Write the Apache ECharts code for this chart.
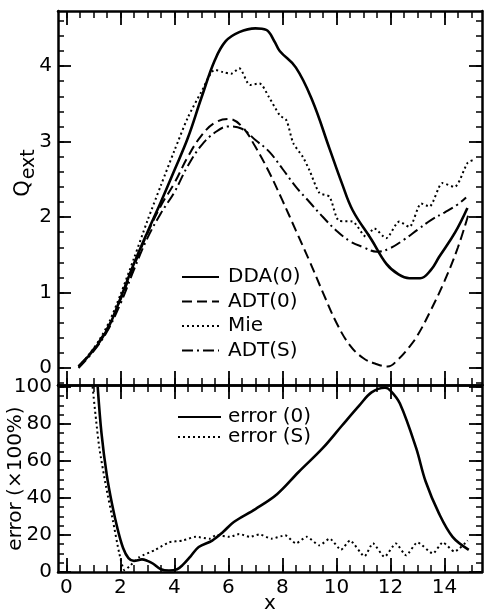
<!DOCTYPE html>
<html><head><meta charset="utf-8">
<script src="https://cdn.jsdelivr.net/npm/echarts@6/dist/echarts.min.js"></script>
<style>html,body{margin:0;padding:0;background:#fff}#c{width:489px;height:611px}</style>
</head><body><div id="c"></div>
<script>
// ---------- data ----------
const xTickLabels = [0, 2, 4, 6, 8, 10, 12, 14];
const qTickLabels = [0, 1, 2, 3, 4];
const errTickLabels = [0, 20, 40, 60, 80, 100];

const ddaO = [[0.45,0.02],[0.8,0.15],[1.2,0.33],[1.6,0.57],[2.0,0.92],[2.5,1.38],[3.0,1.8],[3.5,2.2],[4.0,2.62],[4.5,3.05],[5.0,3.58],[5.5,4.08],[5.9,4.33],[6.4,4.45],[7.0,4.5],[7.4,4.48],[7.7,4.33],[7.9,4.2],[8.5,3.98],[9.1,3.55],[9.75,2.9],[10.2,2.45],[10.6,2.09],[11.3,1.7],[11.85,1.38],[12.3,1.24],[12.7,1.19],[13.1,1.19],[13.5,1.3],[13.8,1.47],[14.4,1.8],[14.85,2.12]];
const adtO = [[0.45,0.02],[1.0,0.25],[1.5,0.52],[2.0,0.9],[2.5,1.35],[3.0,1.78],[3.5,2.15],[4.0,2.45],[4.5,2.8],[5.0,3.08],[5.5,3.25],[6.0,3.3],[6.5,3.2],[7.0,2.93],[7.5,2.6],[8.0,2.22],[8.5,1.82],[9.0,1.42],[9.5,1.0],[10.0,0.6],[10.5,0.3],[11.0,0.13],[11.5,0.05],[11.9,0.02],[12.3,0.12],[12.7,0.28],[13.0,0.43],[13.5,0.77],[14.0,1.15],[14.5,1.6],[14.9,2.05]];
const mie = [[0.45,0.02],[0.8,0.16],[1.2,0.36],[1.6,0.62],[2.0,0.97],[2.5,1.45],[3.0,1.95],[3.5,2.42],[4.0,2.88],[4.5,3.32],[5.0,3.66],[5.5,3.95],[5.8,3.92],[6.1,3.9],[6.4,3.97],[6.8,3.75],[7.15,3.77],[7.5,3.59],[7.9,3.35],[8.15,3.28],[8.4,2.98],[8.75,2.8],[9.0,2.62],[9.37,2.32],[9.74,2.27],[10.1,1.95],[10.6,1.94],[11.1,1.74],[11.4,1.85],[11.84,1.72],[12.33,1.94],[12.7,1.87],[13.14,2.18],[13.44,2.14],[13.93,2.45],[14.37,2.4],[14.86,2.72],[15.1,2.76]];
const adtS = [[0.45,0.0],[1.0,0.22],[1.5,0.48],[2.0,0.85],[2.5,1.3],[3.0,1.72],[3.5,2.05],[4.0,2.33],[4.5,2.68],[5.0,2.95],[5.5,3.12],[6.0,3.2],[6.5,3.17],[7.0,3.02],[7.5,2.87],[8.0,2.64],[8.5,2.4],[9.0,2.2],[9.5,2.0],[10.0,1.82],[10.5,1.68],[11.0,1.6],[11.5,1.54],[12.0,1.59],[12.5,1.7],[13.0,1.83],[13.5,1.96],[14.0,2.06],[14.5,2.17],[14.8,2.26]];

const errO = [[1.16,100],[1.3,75],[1.5,52],[1.7,36],[1.9,23],[2.1,13],[2.3,7.5],[2.5,6],[2.8,6.8],[3.0,6],[3.2,4.6],[3.5,1.5],[3.8,0.8],[4.1,1.5],[4.3,3.7],[4.6,8.5],[4.9,13.5],[5.4,17],[5.8,21.6],[6.2,27],[7.0,34],[7.8,42],[8.6,54],[9.5,67],[10.2,79],[10.85,90],[11.3,97],[11.8,99.5],[12.0,98],[12.35,91],[12.95,67],[13.3,49],[13.8,31.5],[14.3,19],[14.9,12]];
const errS = [[0.97,100],[1.1,82],[1.22,67],[1.47,46],[1.72,28],[1.96,10],[2.15,1],[2.33,3],[2.7,8],[3.3,12],[3.8,16],[4.3,17],[4.8,19],[5.3,18],[5.55,20],[6.05,19],[6.4,20.5],[6.8,19],[7.15,20.3],[7.6,18],[8.1,19.8],[8.5,15.5],[8.9,19],[9.37,14.4],[9.75,18],[10.17,12],[10.5,17],[11.04,8.5],[11.35,15.5],[11.78,8.2],[12.2,15.4],[12.58,9],[13.0,16],[13.57,10],[13.94,16],[14.37,11],[14.86,17]];

// ---------- tick positions ----------
function steps(a, b, s) { const r = []; for (let v = a; v <= b + 1e-9; v += s) r.push(+v.toFixed(4)); return r; }
const xMinor = steps(0, 15, 0.5);
const qMajor = qTickLabels;
const qMinor = steps(-0.2, 4.6, 0.2);
const eMajor = errTickLabels;
const eMinor = steps(0, 100, 5);

const FONT = 'DejaVu Sans';
const XMIN = -0.31, XMAX = 15.39;
const QMIN = -0.225, QMAX = 4.73;
const EMIN = 0, EMAX = 101;

function axisPair(grid, pos, min, max, majors, minors, majorLen, minorLen, labelVals, extra) {
  const base = {type: 'value', gridIndex: grid, position: pos, min: min, max: max,
    splitLine: {show: false}, axisLine: {show: true, onZero: false, lineStyle: {color: '#000', width: 2.5}}};
  const major = Object.assign({}, base, {
    axisTick: {show: true, inside: true, length: majorLen, lineStyle: {color: '#000', width: 1.8}, customValues: majors},
    axisLabel: labelVals ? {show: true, customValues: labelVals, color: '#000', fontSize: 20, fontFamily: FONT, margin: 6} : {show: false}
  }, extra || {});
  const minor = Object.assign({}, base, {
    axisLine: {show: false, onZero: false},
    axisTick: {show: true, inside: true, length: minorLen, lineStyle: {color: '#000', width: 1.5}, customValues: minors},
    axisLabel: {show: false}
  });
  return [major, minor];
}

const xAxes = [].concat(
  axisPair(0, 'bottom', XMIN, XMAX, xTickLabels, xMinor, 14, 7, null),
  axisPair(0, 'top', XMIN, XMAX, xTickLabels, xMinor, 14, 7, null),
  axisPair(1, 'bottom', XMIN, XMAX, xTickLabels, xMinor, 14, 7, xTickLabels,
    {name: 'x', nameLocation: 'middle', nameGap: 22, nameMoveOverlap: false,
     nameTextStyle: {fontSize: 20, fontFamily: FONT, color: '#000'}}),
  axisPair(1, 'top', XMIN, XMAX, xTickLabels, xMinor, 14, 7, null)
);
const yAxes = [].concat(
  axisPair(0, 'left', QMIN, QMAX, qMajor, qMinor, 13, 6, qTickLabels),
  axisPair(0, 'right', QMIN, QMAX, qMajor, qMinor, 13, 6, null),
  axisPair(1, 'left', EMIN, EMAX, eMajor, eMinor, 13, 6, errTickLabels,
    {name: 'error (×100%)', nameLocation: 'middle', nameGap: 32, nameRotate: 90, nameMoveOverlap: false,
     nameTextStyle: {fontSize: 20, fontFamily: FONT, color: '#000'}}),
  axisPair(1, 'right', EMIN, EMAX, eMajor, eMinor, 13, 6, null)
);

function line(name, data, xi, yi, width, type, smooth) {
  return {name: name, type: 'line', data: data, xAxisIndex: xi, yAxisIndex: yi,
    showSymbol: false, symbol: 'none', smooth: smooth, clip: true,
    lineStyle: {color: '#000', width: width, type: type}, itemStyle: {color: '#000'}};
}

const legendText = {fontSize: 20, fontFamily: FONT, color: '#000', lineHeight: 20};
const chart = echarts.init(document.getElementById('c'), null, {renderer: 'canvas'});
chart.setOption({
  animation: false,
  backgroundColor: '#fff',
  grid: [
    {left: 58, top: 11, width: 424, height: 374, containLabel: false, outerBoundsMode: 'none'},
    {left: 58, top: 385, width: 424, height: 187, containLabel: false, outerBoundsMode: 'none'}
  ],
  xAxis: xAxes,
  yAxis: yAxes,
  legend: [
    {orient: 'vertical', left: 176, top: 262, itemWidth: 37, itemHeight: 12, itemGap: 4.5,
     selectedMode: false, data: ['DDA(0)', 'ADT(0)', 'Mie', 'ADT(S)'], itemStyle: {opacity: 0},
     textStyle: Object.assign({padding: [0, 0, 0, 4]}, legendText)},
    {orient: 'vertical', left: 172, top: 402, itemWidth: 43, itemHeight: 12, itemGap: 0,
     selectedMode: false, data: ['error (0)', 'error (S)'], itemStyle: {opacity: 0},
     textStyle: Object.assign({padding: [0, 0, 0, 2]}, legendText)}
  ],
  graphic: [{
    type: 'text', x: 25, y: 173, rotation: Math.PI / 2,
    style: {text: '{q|Q}{s|ext}', align: 'center', verticalAlign: 'middle', fill: '#000',
      rich: {q: {fontSize: 21, fontFamily: FONT, fill: '#000', lineHeight: 24, verticalAlign: 'top'},
             s: {fontSize: 19, fontFamily: FONT, fill: '#000', lineHeight: 24, padding: [9, 0, 0, 1]}}}
  }],
  series: [
    line('DDA(0)', ddaO, 0, 0, 2.6, 'solid', 0.4),
    line('ADT(0)', adtO, 0, 0, 2, [10, 5], 0.4),
    line('Mie', mie, 0, 0, 2, [2, 3], 0.25),
    line('ADT(S)', adtS, 0, 0, 2, [11, 4, 2, 4], 0.4),
    line('error (0)', errO, 4, 4, 2.6, 'solid', 0.35),
    line('error (S)', errS, 4, 4, 2, [2, 3], 0.2)
  ]
});
</script></body></html>
